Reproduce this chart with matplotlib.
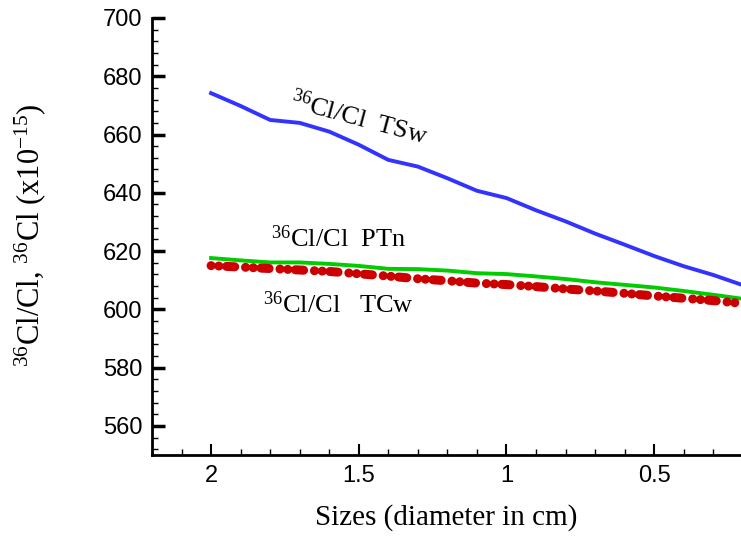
import numpy as np
import matplotlib
matplotlib.use('Agg')
import matplotlib.pyplot as plt
from matplotlib.ticker import MultipleLocator

plt.rcParams['mathtext.fontset'] = 'custom'
plt.rcParams['mathtext.rm'] = 'Liberation Serif'
plt.rcParams['mathtext.it'] = 'Liberation Serif:italic'

# diameter (cm)
sizes = [2.0, 1.9, 1.8, 1.7, 1.6, 1.5, 1.4, 1.3, 1.2, 1.1,
         1.0, 0.9, 0.8, 0.7, 0.6, 0.5, 0.4, 0.3, 0.2]
tsw = [674.2, 669.8, 665.0, 664.0, 661.0, 656.5, 651.3, 649.0, 645.0, 640.7,
       638.2, 634.0, 630.2, 626.0, 622.2, 618.3, 614.8, 611.8, 608.3]
ptn = [617.6, 616.8, 616.1, 616.1, 615.6, 614.9, 613.9, 613.8, 613.3, 612.4,
       612.1, 611.3, 610.4, 609.3, 608.4, 607.5, 606.3, 605.0, 603.6]
tcw = [615.0, 614.5, 614.0, 613.5, 613.0, 612.2, 611.4, 610.5, 609.8, 609.0,
       608.5, 607.8, 607.0, 606.3, 605.5, 604.6, 603.8, 603.0, 602.0]

fig = plt.figure(figsize=(7.41, 5.37), dpi=100)
ax = fig.add_axes([152/741, 1-455/537, 1-152/741, (455-18)/537])

ax.plot(sizes, tsw, color='#3333ff', lw=2.8)
ax.plot(sizes, ptn, color='#00cc00', lw=2.8)
ax.plot(sizes, tcw, color='#cc0000', lw=6.5, dash_capstyle='round',
        linestyle=(0, (0.01, 0.85, 0.01, 0.85, 0.9, 1.2)))

ax.set_xlim(2.2, 0.206)
ax.set_ylim(550, 700)
ax.xaxis.set_minor_locator(MultipleLocator(0.1))
ax.yaxis.set_major_locator(MultipleLocator(20))
ax.yaxis.set_minor_locator(MultipleLocator(4))
ax.set_xticks([2, 1.5, 1, 0.5])
ax.set_xticklabels(['2', '1.5', '1', '0.5'])

for s in ['top', 'right']:
    ax.spines[s].set_visible(False)
for s in ['left', 'bottom']:
    ax.spines[s].set_linewidth(2)

ax.tick_params(axis='both', which='major', direction='in', width=1.5,
               labelsize=17, pad=7)
ax.tick_params(axis='y', which='major', length=9, width=2.5)
ax.tick_params(axis='x', which='major', length=8)
ax.tick_params(axis='both', which='minor', direction='in', length=4, width=1)
for lab in ax.get_xticklabels() + ax.get_yticklabels():
    lab.set_family('Liberation Sans')

ax.set_xlabel('Sizes (diameter in cm)', family='Liberation Serif', fontsize=21)
ax.set_ylabel(r'$^{36}$Cl/Cl, $^{36}$Cl (x10$^{-15}$)', family='Liberation Serif',
              fontsize=22)
ax.xaxis.set_label_coords(0.5, -(518-455)/437)
ax.yaxis.set_label_coords((30-152)/589, 0.503)
ax.xaxis.label.set_va('center')
ax.yaxis.label.set_va('center')

ax.text(1.50, 665.5, r'$^{36}$Cl/Cl  TSw', family='Liberation Serif', fontsize=19,
        rotation=-15, ha='center', va='center', rotation_mode='anchor')
ax.text(1.57, 624.3, r'$^{36}$Cl/Cl  PTn', family='Liberation Serif', fontsize=19,
        ha='center', va='center')
ax.text(1.57, 601.5, r'$^{36}$Cl/Cl   TCw', family='Liberation Serif', fontsize=19,
        ha='center', va='center')

fig.savefig('out.png', dpi=100)
